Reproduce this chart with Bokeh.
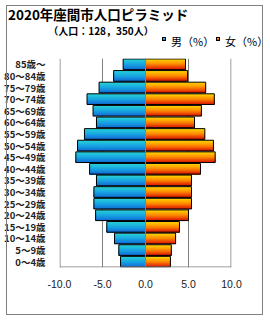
from bokeh.plotting import figure
from bokeh.layouts import column
from bokeh.models import Range1d, FixedTicker, Span, BoxAnnotation, Div
from bokeh.embed import file_html
from bokeh.resources import INLINE

# ---- data ----
age_groups = ["0～4歳", "5～9歳", "10～14歳", "15～19歳", "20～24歳", "25～29歳",
              "30～34歳", "35～39歳", "40～44歳", "45～49歳", "50～54歳", "55～59歳",
              "60～64歳", "65～69歳", "70～74歳", "75～79歳", "80～84歳", "85歳～"]
male = [2.9, 3.1, 3.6, 4.5, 5.8, 6.0, 6.0, 5.7, 6.5, 8.1, 7.9, 7.1, 5.7, 6.1, 6.8, 5.4, 3.7, 2.6]
female = [2.9, 3.0, 3.5, 3.95, 5.0, 5.35, 5.35, 5.35, 6.4, 8.1, 7.9, 6.9, 5.7, 6.5, 8.0, 7.0, 4.9, 4.65]
x_ticks = [-10, -5, 0, 5, 10]
x_tick_labels = ["-10.0", "-5.0", "0.0", "5.0", "10.0"]
title_text = "2020年座間市人口ピラミッド"
subtitle_text = "（人口：128，350人）"
legend_male = "男（%）"
legend_female = "女（%）"

# ---- style ----
W, H = 270, 320
HEAD = 50
GRAY = "#808080"
JP = "Noto Sans CJK JP"


def interp(stops, t):
    n = len(stops) - 1
    pos = t * n
    j = min(int(pos), n - 1)
    f = pos - j
    a, b = stops[j], stops[j + 1]
    return "#%02x%02x%02x" % tuple(int(round(a[c] + (b[c] - a[c]) * f)) for c in range(3))


male_stops = [(40, 212, 214), (24, 165, 226), (16, 105, 214)]
female_stops = [(255, 218, 0), (255, 135, 0), (215, 15, 0)]


def grad_css(stops):
    return "linear-gradient(to bottom, %s)" % ", ".join("rgb(%d,%d,%d)" % s for s in stops)


# ---------- header (titles + legend) as HTML ----------
head_html = f"""
<div style="position:relative;width:{W}px;height:{HEAD}px;font-family:'{JP}';color:#000;">
  <div style="position:absolute;left:6px;top:5px;width:257px;height:310px;
              border:1px solid {GRAY};z-index:10;pointer-events:none;"></div>
  <div style="position:absolute;left:8px;top:6.8px;font-size:13.5px;font-weight:bold;
              line-height:14px;white-space:nowrap;">{title_text}</div>
  <div style="position:absolute;left:0px;width:202px;top:26px;font-size:10px;font-weight:bold;
              line-height:10px;white-space:nowrap;text-align:center;">{subtitle_text}</div>
  <div style="position:absolute;left:162px;top:37px;width:4px;height:4px;border:1px solid #000;
              background:{grad_css(male_stops)};"></div>
  <div style="position:absolute;left:171px;top:34.5px;font-size:11px;line-height:12px;
              white-space:nowrap;">{legend_male}</div>
  <div style="position:absolute;left:216px;top:37px;width:4px;height:4px;border:1px solid #000;
              background:{grad_css(female_stops)};"></div>
  <div style="position:absolute;left:225px;top:34.5px;font-size:11px;line-height:12px;
              white-space:nowrap;">{legend_female}</div>
</div>
"""
hd = Div(text=head_html, width=W, height=HEAD, margin=(0, 0, 0, 0))

# ---------- main chart ----------
FL, FR = 59, 231
FT, FB = 58 - HEAD, 267 - HEAD
MH = H - HEAD
p = figure(width=W, height=MH, title=None,
           x_range=Range1d(-10, 10), y_range=Range1d(-0.5, 17.5),
           output_backend="svg", toolbar_location=None,
           min_border_left=FL, min_border_right=W - FR,
           min_border_top=FT, min_border_bottom=MH - FB)
p.margin = (0, 0, 0, 0)
p.outline_line_color = None
p.background_fill_color = "white"
p.border_fill_color = None

N = 10
h = 0.92
dh = h / N
ys, hs, ml, fr, mc, fc = [], [], [], [], [], []
for i in range(len(age_groups)):
    for k in range(N):
        top = i + h / 2 - k * dh
        bot = i - h / 2
        ys.append((top + bot) / 2)
        hs.append(top - bot)
        ml.append(-male[i])
        fr.append(female[i])
        t = (k + 0.5) / N
        mc.append(interp(male_stops, t))
        fc.append(interp(female_stops, t))

p.hbar(y=ys, height=hs, left=ml, right=0, fill_color=mc, line_color=None)
p.hbar(y=ys, height=hs, left=0, right=fr, fill_color=fc, line_color=None)

idx = list(range(len(age_groups)))
p.hbar(y=idx, height=h, left=[-m for m in male], right=0,
       fill_color=None, line_color="black", line_width=1)
p.hbar(y=idx, height=h, left=0, right=female,
       fill_color=None, line_color="black", line_width=1)

p.add_layout(Span(location=0, dimension="height", line_color=GRAY, line_width=1))


def cbox(l, r, t, b, **kw):
    return BoxAnnotation(left=l, right=r, top=t, bottom=b,
                         left_units="canvas", right_units="canvas",
                         top_units="canvas", bottom_units="canvas", **kw)


# frame edges (left, right, bottom), inside frame
for l, r, t, b in [(FL, FL + 1, FT, FB), (FR - 1, FR, FT, FB), (FL, FR, FB - 1, FB)]:
    p.add_layout(cbox(l, r, t, b, fill_color=GRAY, fill_alpha=1, line_color=None))

# axes
p.xaxis.ticker = FixedTicker(ticks=x_ticks)
p.xaxis.major_label_overrides = {t: l for t, l in zip(x_ticks, x_tick_labels)}
p.xaxis.major_tick_line_color = None
p.xaxis.minor_tick_line_color = None
p.xaxis.axis_line_color = None
p.xaxis.major_label_text_font = "Liberation Sans"
p.xaxis.major_label_text_font_size = "10.5px"
p.xaxis.major_label_text_color = "#1a1a1a"
p.xaxis.major_label_standoff = 6

p.yaxis.ticker = FixedTicker(ticks=idx)
p.yaxis.major_label_overrides = {i: l for i, l in enumerate(age_groups)}
p.yaxis.major_tick_line_color = None
p.yaxis.minor_tick_line_color = None
p.yaxis.axis_line_color = None
p.yaxis.major_label_text_font = JP
p.yaxis.major_label_text_font_size = "9.5px"
p.yaxis.major_label_text_font_style = "bold"
p.yaxis.major_label_text_color = "#222222"
p.yaxis.major_label_standoff = 8

p.xgrid.ticker = FixedTicker(ticks=x_ticks)
p.xgrid.grid_line_color = GRAY
p.ygrid.grid_line_color = None

layout = column(hd, p, spacing=0, margin=(0, 0, 0, 0))

open("out.html", "w").write(file_html(layout, INLINE))
